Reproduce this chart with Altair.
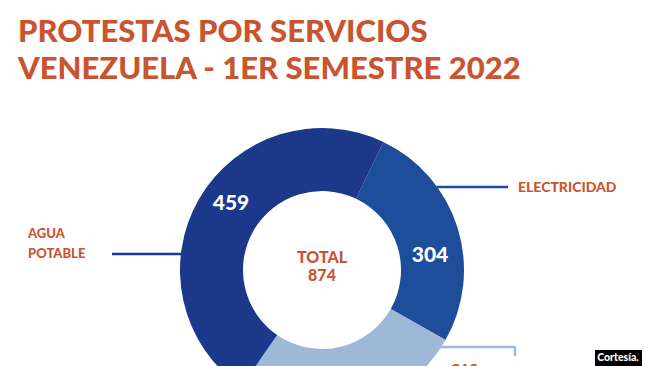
import math
import altair as alt
import pandas as pd

# ---- data read from the graphic ----
title_lines = ["PROTESTAS POR SERVICIOS", "VENEZUELA - 1ER SEMESTRE 2022"]
categories = ["ELECTRICIDAD", "GAS DOMÉSTICO", "AGUA POTABLE"]   # clockwise from the top
protests = [304, 111, 459]
arc_share = [26.1, 26.4, 47.5]   # share of the ring as drawn in the graphic (%)
colors = ["#1e4d9b", "#a0b8d8", "#1b388a"]
total_text = "TOTAL\n874"
credit = "Cortesía."

ORANGE = "#c9542f"
FONT = "Lato"

df = pd.DataFrame({"categoria": categories, "protestas": protests,
                   "arco": arc_share, "orden": [0, 1, 2]})

CX, CY = 314, 262
start = math.radians(25.6)

ring = alt.Chart(df).mark_arc(outerRadius=142, innerRadius=79, strokeWidth=0).encode(
    x=alt.value(CX), y=alt.value(CY),
    theta=alt.Theta("arco:Q", stack=True,
                    scale=alt.Scale(range=[start, start + 2 * math.pi])),
    color=alt.Color("categoria:N", scale=alt.Scale(domain=categories, range=colors), legend=None),
    order=alt.Order("orden:Q"),
)


def txt(s, x, y, size, color, align="center", baseline="middle", weight="bold", lh=None):
    kw = dict(font=FONT, fontSize=size, fontWeight=weight, color=color,
              align=align, baseline=baseline, lineBreak="\n")
    if lh:
        kw["lineHeight"] = lh
    return alt.Chart(pd.DataFrame({"t": [s]})).mark_text(**kw).encode(
        x=alt.value(x), y=alt.value(y), text="t:N")


def rule(x, x2, y, y2, color):
    return alt.Chart(pd.DataFrame({"a": [0]})).mark_rule(color=color, strokeWidth=2.5).encode(
        x=alt.value(x), x2=alt.value(x2), y=alt.value(y), y2=alt.value(y2))


layers = [
    ring,
    # leader lines
    rule(104, 174, 246, 246, colors[2]),
    rule(429, 500, 179, 179, colors[0]),
    rule(432, 507, 339, 339, colors[1]),
    rule(507, 507, 339, 348, colors[1]),
    # titles
    txt(title_lines[0], 10, 34, 31, ORANGE, align="left", baseline="alphabetic", weight=900),
    txt(title_lines[1], 10, 71, 31, ORANGE, align="left", baseline="alphabetic", weight=900),
    # category labels
    txt("AGUA\nPOTABLE", 20, 226, 13, ORANGE, align="left", weight=900, lh=20),
    txt(categories[0], 510, 180, 14, ORANGE, align="left", weight=900),
    txt("GAS\nDOMÉSTICO", 442, 362, 14, ORANGE, align="left", weight=900, lh=20),
    # values
    txt(str(protests[2]), 223, 196, 21, "white", weight=900),
    txt(str(protests[0]), 422, 248, 21, "white", weight=900),
    txt(total_text, 314, 250, 16, ORANGE, weight=900, lh=18),
]

credit_box = alt.Chart(pd.DataFrame({"a": [0]})).mark_rect(color="black").encode(
    x=alt.value(587), x2=alt.value(634), y=alt.value(342), y2=alt.value(362))
layers.append(credit_box)
layers.append(txt(credit, 610, 350, 10.5, "white", weight=900))

chart = alt.layer(*layers).properties(
    width=634, height=404, padding=0, autosize="none", background="white"
).configure_view(stroke=None)

chart.save("out.html", embed_options={"renderer": "svg", "actions": False})
